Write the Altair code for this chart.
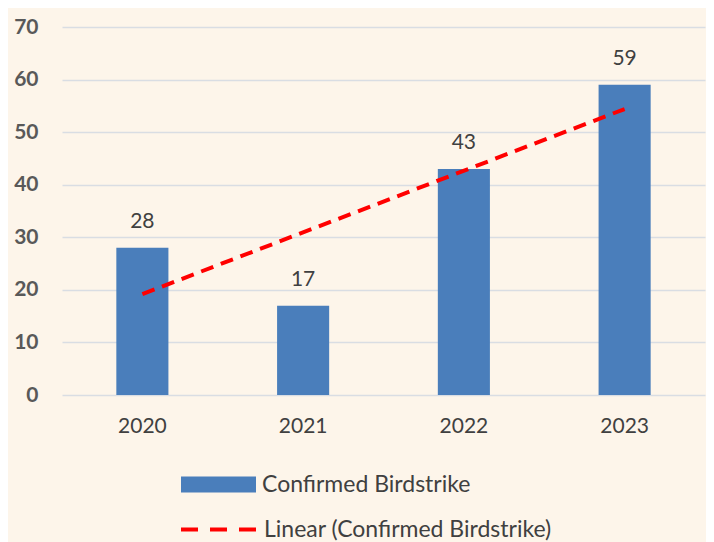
import altair as alt
import pandas as pd

years = ["2020", "2021", "2022", "2023"]
birdstrikes = [28, 17, 43, 59]
trend_years = ["2020", "2023"]
trend_values = [19.2, 54.4]
bar_series = "Confirmed Birdstrike"
trend_series = "Linear (Confirmed Birdstrike)"

bars_df = pd.DataFrame({"year": years, "count": birdstrikes, "series": bar_series})
trend_df = pd.DataFrame({"year": trend_years, "value": trend_values, "series": trend_series})

FONT = "Lato"
BLUE = "#4a7ebb"
RED = "#ff0000"

x_enc = alt.X("year:O", sort=years,
              scale=alt.Scale(paddingInner=0.676, paddingOuter=0.338),
              axis=alt.Axis(title=None, labelAngle=0, domain=False, ticks=False,
                            labelPadding=20, labelFontSize=21, labelColor="#404040",
                            labelFont=FONT))

y_scale = alt.Scale(domain=[0, 70], nice=False)

bars = alt.Chart(bars_df).mark_bar(color=BLUE).encode(
    x=x_enc,
    y=alt.Y("count:Q", scale=y_scale,
            axis=alt.Axis(title=None, values=[0, 10, 20, 30, 40, 50, 60, 70],
                          domain=False, ticks=False, labelPadding=24,
                          labelFontSize=21, labelColor="#595959", labelFont=FONT,
                          labelFontWeight="bold",
                          gridColor="#d9dde3", gridWidth=1.5)),
    color=alt.Color("series:N",
                    scale=alt.Scale(domain=[bar_series], range=[BLUE]),
                    legend=alt.Legend(title=None, orient="none", legendX=119, legendY=420,
                                      symbolType="M-1,-0.213H1V0.213H-1Z",
                                      symbolSize=5625, symbolStrokeWidth=0,
                                      symbolOpacity=1, labelLimit=500,
                                      labelFontSize=23, labelColor="#404040", labelFont=FONT,
                                      labelOffset=6, padding=0)),
)

labels = alt.Chart(bars_df).mark_text(
    baseline="alphabetic", dy=-20, fontSize=21, color="#404040", font=FONT
).encode(
    x=alt.X("year:O", sort=years),
    y=alt.Y("count:Q", scale=y_scale),
    text="count:Q",
)

trend = alt.Chart(trend_df).mark_line(strokeWidth=4, strokeDash=[13, 8]).encode(
    x=alt.X("year:O", sort=years),
    y=alt.Y("value:Q", scale=y_scale),
    color=alt.Color("series:N",
                    scale=alt.Scale(domain=[trend_series], range=[RED]),
                    legend=alt.Legend(title=None, orient="none", legendX=117, legendY=463,
                                      symbolType="stroke", symbolSize=5625,
                                      symbolStrokeWidth=4, symbolDash=[17, 12],
                                      labelLimit=500,
                                      labelFontSize=23, labelColor="#404040", labelFont=FONT,
                                      labelOffset=6, padding=0)),
)

chart = alt.layer(bars, trend, labels).resolve_scale(color="independent").properties(
    width=643, height=368,
    background="#fdf5ea",
    padding={"left": 54, "top": 19, "right": 1, "bottom": 160},
    autosize=alt.AutoSizeParams(type="none"),
).configure_view(stroke=None)

chart.save("out.html", embed_options={"renderer": "svg", "actions": False})
